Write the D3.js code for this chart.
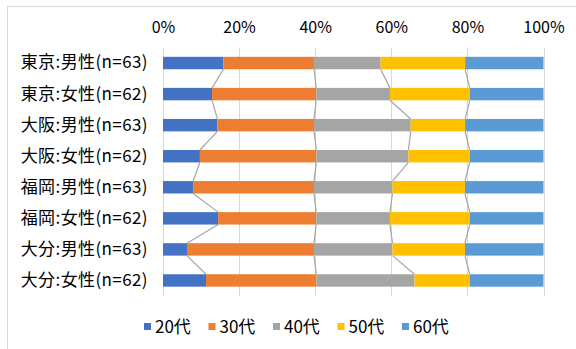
<!DOCTYPE html>
<html>
<head>
<meta charset="utf-8">
<script src="https://cdn.jsdelivr.net/npm/d3@7"></script>
<style>
  html, body { margin: 0; padding: 0; background: #fff; }
  svg { display: block; }
  text { font-family: "Noto Sans CJK JP", "Noto Sans", sans-serif; fill: #000; }
</style>
</head>
<body>
<svg id="chart" width="576" height="349"></svg>
<script>
// Respondents by region and sex, share of each age band (%)
const categories = [
  "東京:男性(n=63)", "東京:女性(n=62)",
  "大阪:男性(n=63)", "大阪:女性(n=62)",
  "福岡:男性(n=63)", "福岡:女性(n=62)",
  "大分:男性(n=63)", "大分:女性(n=62)"
];
const seriesNames = ["20代", "30代", "40代", "50代", "60代"];
const age20 = [15.9, 12.9, 14.3,  9.7,  7.9, 14.5,  6.3, 11.3];
const age30 = [23.8, 27.4, 25.4, 30.6, 31.7, 25.8, 33.3, 29.0];
const age40 = [17.5, 19.4, 25.4, 24.2, 20.6, 19.4, 20.6, 25.8];
const age50 = [22.2, 21.0, 14.3, 16.1, 19.0, 21.0, 19.0, 14.5];
const age60 = [20.6, 19.4, 20.6, 19.4, 20.6, 19.4, 20.6, 19.4];
const tickValues = [0, 0.2, 0.4, 0.6, 0.8, 1.0];
const colors = ["#4472C4", "#ED7D31", "#A5A5A5", "#FFC000", "#5B9BD5"];

const seriesArrays = [age20, age30, age40, age50, age60];
const rows = categories.map((c, i) => {
  const r = { category: c };
  seriesNames.forEach((s, j) => { r[s] = seriesArrays[j][i]; });
  return r;
});

const svg = d3.select("#chart");
const W = 576, H = 349;

// outer chart frame
svg.append("rect")
  .attr("x", 7.5).attr("y", 6.5)
  .attr("width", W).attr("height", H)
  .attr("fill", "none").attr("stroke", "#d9d9d9").attr("stroke-width", 1);

const plot = { left: 163, right: 543.5, top: 47.5, bottom: 296 };

const x = d3.scaleLinear().domain([0, 1]).range([plot.left, plot.right]);
const y = d3.scaleBand().domain(categories)
  .range([plot.top, plot.bottom]).paddingInner(0.6).paddingOuter(0.3);

const stack = d3.stack().keys(seriesNames).offset(d3.stackOffsetExpand);
const stacked = stack(rows);

// gridlines
svg.append("g").selectAll("line").data(tickValues).join("line")
  .attr("x1", d => Math.round(x(d)) + 0.5).attr("x2", d => Math.round(x(d)) + 0.5)
  .attr("y1", plot.top).attr("y2", plot.bottom)
  .attr("stroke", "#d9d9d9").attr("stroke-width", 1);

// top percentage axis
const xAxis = d3.axisTop(x).tickValues(tickValues)
  .tickFormat(d3.format(".0%")).tickSize(0).tickPadding(0);
const gx = svg.append("g").attr("transform", `translate(0,33)`).call(xAxis);
gx.select(".domain").remove();
gx.selectAll("text").attr("font-size", 16).attr("fill", "#000")
  .style("font-family", '"Liberation Sans Narrow", "Noto Sans CJK JP", sans-serif')
  .attr("dy", 0);

// category labels
const yAxis = d3.axisLeft(y).tickSize(0).tickPadding(15);
const gy = svg.append("g").attr("transform", `translate(${plot.left},0)`).call(yAxis);
gy.select(".domain").remove();
gy.selectAll("text").attr("font-size", 17).attr("fill", "#000")
  .attr("letter-spacing", 0.4)
  .style("font-family", '"Noto Sans CJK JP", sans-serif');

// series lines joining segment boundaries of consecutive bars
const lineG = svg.append("g");
stacked.slice(0, seriesNames.length - 1).forEach(layer => {
  for (let i = 0; i < categories.length - 1; i++) {
    lineG.append("line")
      .attr("x1", x(layer[i][1])).attr("y1", y(categories[i]) + y.bandwidth())
      .attr("x2", x(layer[i + 1][1])).attr("y2", y(categories[i + 1]))
      .attr("stroke", "#a5a5a5").attr("stroke-width", 1.2);
  }
});

// stacked bars
svg.append("g").selectAll("g").data(stacked).join("g")
  .attr("fill", (d, i) => colors[i])
  .selectAll("rect").data(d => d).join("rect")
  .attr("x", d => x(d[0]))
  .attr("y", d => y(d.data.category))
  .attr("width", d => x(d[1]) - x(d[0]))
  .attr("height", y.bandwidth());

// legend
const lx = d3.scalePoint().domain(seriesNames).range([144, 402]);
const legend = svg.append("g").selectAll("g").data(seriesNames).join("g")
  .attr("transform", d => `translate(${lx(d)},323)`);
legend.append("rect").attr("width", 7).attr("height", 7)
  .attr("fill", (d, i) => colors[i]);
legend.append("text").attr("x", 11).attr("y", 10)
  .attr("font-size", 17).text(d => d);
</script>
</body>
</html>
